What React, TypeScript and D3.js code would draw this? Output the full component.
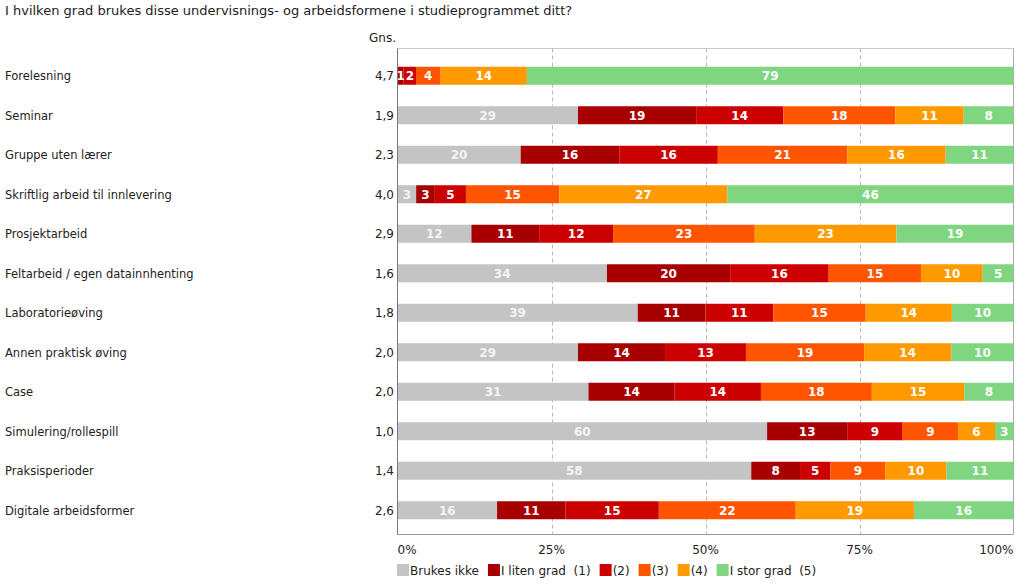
import * as d3 from "d3";
import { useEffect, useRef } from "react";

const title =
  "I hvilken grad brukes disse undervisnings- og arbeidsformene i studieprogrammet ditt?";

const categories = [
  "Forelesning",
  "Seminar",
  "Gruppe uten lærer",
  "Skriftlig arbeid til innlevering",
  "Prosjektarbeid",
  "Feltarbeid / egen datainnhenting",
  "Laboratorieøving",
  "Annen praktisk øving",
  "Case",
  "Simulering/rollespill",
  "Praksisperioder",
  "Digitale arbeidsformer",
];

const averages = ["4,7", "1,9", "2,3", "4,0", "2,9", "1,6", "1,8", "2,0", "2,0", "1,0", "1,4", "2,6"];

const seriesNames = ["Brukes ikke", "I liten grad  (1)", "(2)", "(3)", "(4)", "I stor grad  (5)"];
const seriesColors = ["#c4c4c4", "#a80000", "#cc0000", "#ff5500", "#ff9900", "#80d680"];
const labelColors = ["#f4f4f4", "#ffffff", "#ffffff", "#ffffff", "#ffffff", "#ffffff"];

// percent per category, order: Brukes ikke, 1, 2, 3, 4, 5
const brukesIkke = [0, 29, 20, 3, 12, 34, 39, 29, 31, 60, 58, 16];
const grad1 = [1, 19, 16, 3, 11, 20, 11, 14, 14, 13, 8, 11];
const grad2 = [2, 14, 16, 5, 12, 16, 11, 13, 14, 9, 5, 15];
const grad3 = [4, 18, 21, 15, 23, 15, 15, 19, 18, 9, 9, 22];
const grad4 = [14, 11, 16, 27, 23, 10, 14, 14, 15, 6, 10, 19];
const grad5 = [79, 8, 11, 46, 19, 5, 10, 10, 8, 3, 11, 16];

const xTicks = [0, 0.25, 0.5, 0.75, 1];

const FONT = "'DejaVu Sans', Verdana, sans-serif";

export default function App() {
  const svgRef = useRef<SVGSVGElement>(null);

  useEffect(() => {
    document.body.style.margin = "0";
    if (!svgRef.current) return;
    const svg = d3.select(svgRef.current);
    svg.selectAll("*").remove();

    const plot = { left: 397.5, right: 1013.5, top: 48.5, bottom: 534.5 };

    const x = d3.scaleLinear().domain([0, 1]).range([plot.left, plot.right]);
    const y = d3
      .scaleBand<string>()
      .domain(categories)
      .range([56, 530])
      .paddingInner(0.54)
      .paddingOuter(0.27);

    const series = [brukesIkke, grad1, grad2, grad3, grad4, grad5];

    // Title
    svg
      .append("text")
      .attr("x", 5)
      .attr("y", 15)
      .attr("font-family", FONT)
      .attr("font-size", 13)
      .attr("fill", "#222")
      .text(title);

    svg
      .append("text")
      .attr("x", 396)
      .attr("y", 42)
      .attr("text-anchor", "end")
      .attr("font-family", FONT)
      .attr("font-size", 12)
      .attr("fill", "#222")
      .text("Gns.");

    // Plot frame
    svg
      .append("line")
      .attr("x1", plot.left)
      .attr("x2", plot.right)
      .attr("y1", plot.top)
      .attr("y2", plot.top)
      .attr("stroke", "#c8c8c8");
    svg
      .append("line")
      .attr("x1", plot.left)
      .attr("x2", plot.right)
      .attr("y1", plot.bottom)
      .attr("y2", plot.bottom)
      .attr("stroke", "#999");
    svg
      .append("line")
      .attr("x1", plot.right)
      .attr("x2", plot.right)
      .attr("y1", plot.top)
      .attr("y2", plot.bottom)
      .attr("stroke", "#aaa");

    // Dashed grid
    svg
      .append("g")
      .selectAll("line")
      .data(xTicks.slice(1, -1))
      .join("line")
      .attr("x1", (d) => Math.round(x(d)) + 0.5)
      .attr("x2", (d) => Math.round(x(d)) + 0.5)
      .attr("y1", plot.top)
      .attr("y2", plot.bottom)
      .attr("stroke", "#b8b8b8")
      .attr("stroke-dasharray", "4,3");

    // Bars
    categories.forEach((cat, i) => {
      const vals = series.map((s) => s[i]);
      const total = d3.sum(vals);
      let acc = 0;
      const segs = vals.map((v, k) => {
        const start = acc / total;
        acc += v;
        return { k, v, start, end: acc / total };
      });
      const cy = (y(cat) ?? 0) + y.bandwidth() / 2;
      const g = svg.append("g");
      g.selectAll("rect")
        .data(segs.filter((s) => s.v > 0))
        .join("rect")
        .attr("x", (s) => x(s.start))
        .attr("width", (s) => x(s.end) - x(s.start))
        .attr("y", cy - 9)
        .attr("height", 18)
        .attr("fill", (s) => seriesColors[s.k]);
      g.selectAll("text")
        .data(segs.filter((s) => s.v > 0))
        .join("text")
        .attr("x", (s) => (x(s.start) + x(s.end)) / 2)
        .attr("y", cy + 4.5)
        .attr("text-anchor", "middle")
        .attr("font-family", FONT)
        .attr("font-size", 12)
        .attr("font-weight", "bold")
        .attr("fill", (s) => labelColors[s.k])
        .text((s) => s.v);

      svg
        .append("text")
        .attr("x", 5)
        .attr("y", cy + 4.5)
        .attr("font-family", FONT)
        .attr("font-size", 11.5)
        .attr("fill", "#222")
        .text(cat);
      svg
        .append("text")
        .attr("x", 394)
        .attr("y", cy + 4.5)
        .attr("text-anchor", "end")
        .attr("font-family", FONT)
        .attr("font-size", 12)
        .attr("fill", "#222")
        .text(averages[i]);
    });

    // Left axis line over bars
    svg
      .append("line")
      .attr("x1", plot.left)
      .attr("x2", plot.left)
      .attr("y1", plot.top)
      .attr("y2", plot.bottom)
      .attr("stroke", "#777");

    // X tick labels
    svg
      .append("g")
      .selectAll("text")
      .data(xTicks)
      .join("text")
      .attr("x", (d, i) => (i === 0 ? plot.left : i === xTicks.length - 1 ? plot.right : x(d)))
      .attr("y", 554)
      .attr("text-anchor", (d, i) => (i === 0 ? "start" : i === xTicks.length - 1 ? "end" : "middle"))
      .attr("font-family", FONT)
      .attr("font-size", 12)
      .attr("fill", "#222")
      .text((d) => d3.format(".0%")(d));

    // Legend
    const legend = svg.append("g").attr("transform", "translate(397,564)");
    let lx = 0;
    seriesNames.forEach((name, k) => {
      legend
        .append("rect")
        .attr("x", lx)
        .attr("y", 0)
        .attr("width", 12)
        .attr("height", 12)
        .attr("fill", seriesColors[k]);
      const t = legend
        .append("text")
        .attr("x", lx + 13)
        .attr("y", 10.5)
        .attr("font-family", FONT)
        .attr("font-size", 12)
        .attr("fill", "#222")
        .style("white-space", "pre")
        .text(name);
      const w = (t.node() as SVGTextElement).getComputedTextLength();
      lx += 13 + w + 9;
    });
  }, []);

  return <svg ref={svgRef} width={1024} height={585} style={{ display: "block" }} />;
}
